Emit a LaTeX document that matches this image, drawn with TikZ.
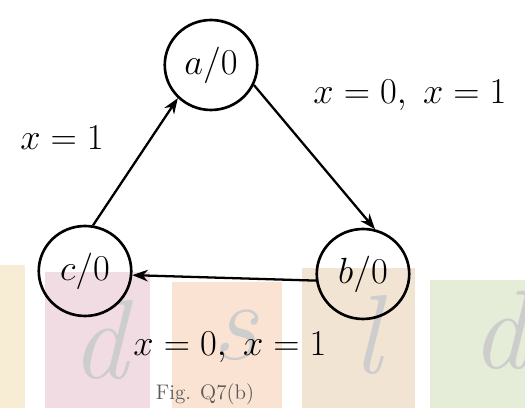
\documentclass[tikz,border=0pt]{standalone}
\usepackage{tikz}
\usetikzlibrary{arrows.meta,shapes.geometric}

\definecolor{patchyel}{HTML}{F7EDD5}
\definecolor{patchpink}{HTML}{F2DCE3}
\definecolor{patchpeach}{HTML}{FAE3D3}
\definecolor{patchtan}{HTML}{F2E4D2}
\definecolor{patchgreen}{HTML}{E5EDD9}
\definecolor{markgray}{HTML}{CDCDCD}

\tikzset{
  stnode/.style={draw,ellipse,line width=1.5pt,minimum width=1.85cm,minimum height=1.8cm,font=\huge,inner sep=0pt},
  trans/.style={->,line width=1.3pt},
  lbl/.style={font=\huge,inner sep=0pt},
  wmark/.style={font=\fontsize{64}{64}\selectfont\itshape,text=markgray,inner sep=0pt}
}

\begin{document}
\begin{tikzpicture}[x=0.02cm,y=-0.02cm,>=Stealth]
\useasboundingbox (0,0) rectangle (525,408);
% watermark patches
\fill[patchyel] (0,265) rectangle (25,408);
\fill[patchpink] (45,272) rectangle (150,408);
\fill[patchpeach] (172,282) rectangle (282,408);
\fill[patchtan] (302,268) rectangle (415,408);
\fill[patchgreen] (430,280) rectangle (525,408);
\node[wmark] (wm1) at (100,340) {d};
\node[wmark] (wm2) at (235,335) {s};
\node[wmark] (wm3) at (368,335) {l};
\node[wmark] (wm4) at (500,330) {d};
% states
\node[stnode] (a) at (211,65) {$a/0$};
\node[stnode] (c) at (85,271) {$c/0$};
\node[stnode] (b) at (363,274) {$b/0$};
% transitions
\draw[trans] (c.80) -- (a.225);
\draw[trans] (a.-25) -- (b.75);
\draw[trans] (b.188) -- (c.-5);
\node[lbl] (l1) at (62,138) {$x=1$};
\node[lbl] (l2) at (410,95) {$x=0,\;x=1$};
\node[lbl] (l3) at (230,347) {$x=0,\;x=1$};
\node[font=\large,text=black!65] (cap) at (205,394) {Fig. Q7(b)};
\end{tikzpicture}
\end{document}
